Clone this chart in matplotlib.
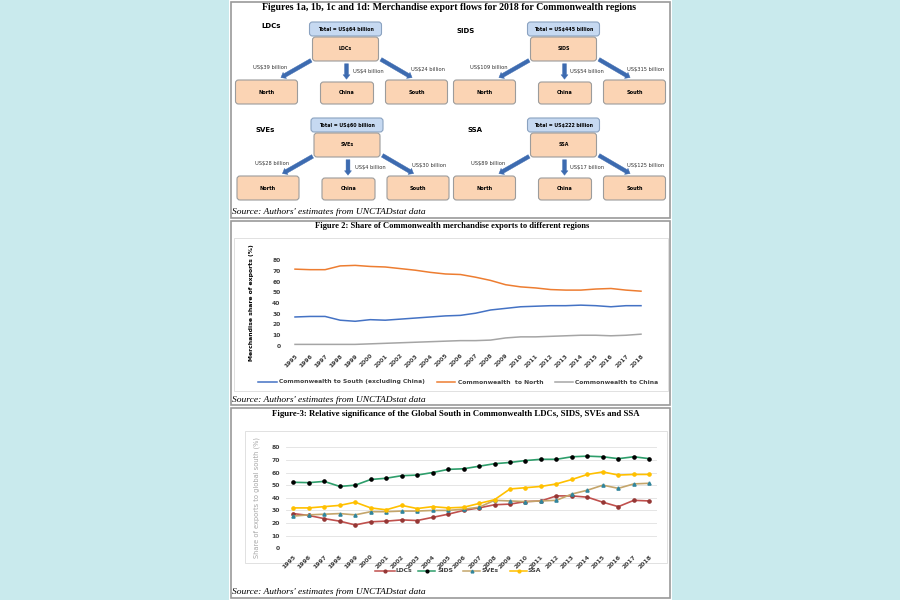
import matplotlib
matplotlib.use("Agg")
import matplotlib.pyplot as plt
from matplotlib.patches import Rectangle, FancyBboxPatch, FancyArrowPatch
import numpy as np

# ---------------- data ----------------
regions = ["LDCs", "SIDS", "SVEs", "SSA"]
totals = [64, 445, 60, 222]
to_north = [39, 109, 28, 89]
to_china = [4, 54, 4, 17]
to_south = [24, 315, 30, 125]

years = [str(y) for y in range(1995, 2019)]

cw_south = [27, 27.5, 27.5, 24, 23, 24.5, 24, 25, 26, 27, 28, 28.5, 30.5, 33.5,
            35, 36.5, 37, 37.5, 37.5, 38, 37.5, 36.5, 37.5, 37.5]
cw_north = [71.5, 71, 71, 74.5, 75, 74, 73.5, 72, 70.5, 68.5, 67, 66.5, 64, 61,
            57, 55, 54, 52.5, 52, 52, 53, 53.5, 52, 51]
cw_china = [1.5, 1.5, 1.5, 1.5, 1.5, 2, 2.5, 3, 3.5, 4, 4.5, 5, 5, 5.5,
            7.5, 8.5, 8.5, 9, 9.5, 10, 10, 9.5, 10, 11]

ldcs = [27.5, 26, 23.5, 21.5, 18.5, 21, 21.5, 22.5, 22, 24.5, 27, 30, 32, 34.5,
        35, 37, 37.5, 41.5, 41.5, 40.5, 36.5, 33, 38, 37.5]
sids = [52.3, 52, 53, 49, 50, 54.5, 55.5, 57.5, 58, 60, 62.5, 63, 65, 67,
        68, 69.5, 70.5, 70.5, 72.5, 73, 72.5, 71, 72.5, 71]
sves = [25.5, 26.5, 27, 27.5, 26.5, 29, 29, 29.5, 29.5, 30, 30, 31, 32.5, 38,
        37.5, 37, 37.5, 38, 43, 46, 50, 47.5, 51, 51.5]
ssa = [32, 32, 33, 34, 36.5, 32, 30.5, 34, 31.5, 33, 32, 32.5, 35.5, 38.5,
       47, 48, 49, 51, 54.5, 58.5, 60.5, 58, 58.5, 58.5]

# ---------------- figure ----------------
W, H = 900, 600
fig = plt.figure(figsize=(9, 6), dpi=100, facecolor="#c9eaed")

ov = fig.add_axes([0, 0, 1, 1], zorder=0)
ov.set_xlim(0, W)
ov.set_ylim(H, 0)
ov.axis("off")

SERIF = "Liberation Serif"
SANS = "DejaVu Sans"

# white panel
ov.add_patch(Rectangle((229, 0), 443, 600, facecolor="white", edgecolor="none"))
# outer frames
for (x0, y0, x1, y1) in [(231, 2, 670, 218), (231, 221, 670, 405), (231, 408, 670, 598)]:
    ov.add_patch(Rectangle((x0, y0), x1 - x0, y1 - y0, facecolor="none",
                           edgecolor="#9a9a9a", lw=1.2))
# inner chart borders
for (x0, y0, x1, y1) in [(234, 238, 668, 391), (245, 431, 667, 563)]:
    ov.add_patch(Rectangle((x0, y0), x1 - x0, y1 - y0, facecolor="none",
                           edgecolor="#dcdcdc", lw=0.6))

# titles
ov.text(449, 7, "Figures 1a, 1b, 1c and 1d: Merchandise export flows for 2018 for Commonwealth regions",
        ha="center", va="center", fontsize=7.1, fontweight="bold", family=SERIF)
ov.text(452, 226, "Figure 2: Share of Commonwealth merchandise exports to different regions",
        ha="center", va="center", fontsize=6.1, fontweight="bold", family=SERIF)
ov.text(456, 414, "Figure-3: Relative significance of the Global South in Commonwealth LDCs, SIDS, SVEs and SSA",
        ha="center", va="center", fontsize=6.3, fontweight="bold", family=SERIF)
for ys in [212, 400, 592]:
    ov.text(232, ys, "Source: Authors' estimates from UNCTADstat data", ha="left", va="center",
            fontsize=6.8, style="italic", family=SERIF)

# ---------------- figure 1 diagrams ----------------
centers = [(345.5, 22), (563.5, 22), (347, 118), (563.5, 118)]
name_pos = [(271, 26), (466, 31), (265, 130), (475, 130)]
peach = "#fbd4b4"
peach_edge = "#9c9c9c"
blue_fill = "#c6d9f1"
blue_edge = "#8aa2c0"
arrow_col = "#3d6bb0"


def rbox(x0, y0, x1, y1, fc, ec, text, fs=3.6):
    ov.add_patch(FancyBboxPatch((x0, y0), x1 - x0, y1 - y0,
                                boxstyle="round,pad=0,rounding_size=3",
                                facecolor=fc, edgecolor=ec, lw=0.8))
    ov.text((x0 + x1) / 2, (y0 + y1) / 2, text, ha="center", va="center",
            fontsize=fs, fontweight="bold", family=SANS)


for i, reg in enumerate(regions):
    cx, y0 = centers[i]
    ov.text(name_pos[i][0], name_pos[i][1], reg, ha="center", va="center",
            fontsize=5, fontweight="bold", family=SANS)
    rbox(cx - 36, y0, cx + 36, y0 + 14, blue_fill, blue_edge,
         f"Total = US${totals[i]} billion", fs=3.4)
    rbox(cx - 33, y0 + 15, cx + 33, y0 + 39, peach, peach_edge, reg, fs=3.4)
    rbox(cx - 110, y0 + 58, cx - 48, y0 + 82, peach, peach_edge, "North", fs=3.6)
    rbox(cx - 25, y0 + 60, cx + 28, y0 + 82, peach, peach_edge, "China", fs=3.6)
    rbox(cx + 40, y0 + 58, cx + 102, y0 + 82, peach, peach_edge, "South", fs=3.6)
    for (xa, ya, xb, yb) in [(cx - 32, y0 + 37, cx - 67, y0 + 57),
                             (cx + 1, y0 + 39, cx + 1, y0 + 60),
                             (cx + 33, y0 + 36, cx + 69, y0 + 57)]:
        ov.add_patch(FancyArrowPatch((xa, ya), (xb, yb),
                                     arrowstyle="simple,head_length=3.2,head_width=5,tail_width=2.8",
                                     mutation_scale=1, facecolor=arrow_col,
                                     edgecolor=arrow_col, lw=0.3))
    ov.text(cx - 75, y0 + 46, f"US${to_north[i]} billion", ha="center", va="center",
            fontsize=3.7, color="#333333", family=SANS)
    ov.text(cx + 23, y0 + 49, f"US${to_china[i]} billion", ha="center", va="center",
            fontsize=3.7, color="#333333", family=SANS)
    ov.text(cx + 82, y0 + 47, f"US${to_south[i]} billion", ha="center", va="center",
            fontsize=3.7, color="#333333", family=SANS)

# ---------------- figure 2 ----------------
x = np.arange(len(years))


def px_axes(left, right, top, bottom):
    return fig.add_axes([left / W, 1 - bottom / H, (right - left) / W, (bottom - top) / H],
                        zorder=1, facecolor="none")


sp2 = (641 - 295) / 23
ax2 = px_axes(295 - sp2 / 2, 641 + sp2 / 2, 260, 346)
ax2.plot(x, cw_south, color="#4472c4", lw=1.1)
ax2.plot(x, cw_north, color="#ed7d31", lw=1.1)
ax2.plot(x, cw_china, color="#a5a5a5", lw=1.1)
ax2.set_xlim(-0.5, len(years) - 0.5)
ax2.set_ylim(0, 80)
ax2.set_yticks(range(0, 81, 10))
ax2.set_xticks(x)
ax2.set_xticklabels(years, rotation=45, ha="right", rotation_mode="anchor")
for s in ax2.spines.values():
    s.set_visible(False)
ax2.tick_params(length=0, labelsize=4.3, pad=5)
for t in ax2.get_yticklabels() + ax2.get_xticklabels():
    t.set_fontweight("bold")
    t.set_color("#404040")
ax2.set_ylabel("Merchandise share of exports (%)", fontsize=4.4, fontweight="bold",
               labelpad=13)

# legend figure 2
leg2 = [((258, 277), 279, "Commonwealth to South (excluding China)", "#4472c4"),
        ((437, 455), 458, "Commonwealth  to North", "#ed7d31"),
        ((555, 573), 575, "Commonwealth to China", "#a5a5a5")]
for (xa, xb), xt, lab, col in leg2:
    ov.plot([xa, xb], [382, 382], color=col, lw=1.1)
    ov.text(xt, 382, lab, ha="left", va="center", fontsize=4.3, fontweight="bold",
            color="#404040", family=SANS)

# ---------------- figure 3 ----------------
sp3 = (649.3 - 293.3) / 23
ax3 = px_axes(293.3 - sp3 / 2, 649.3 + sp3 / 2, 447.3, 548.3)
ax3.set_axisbelow(True)
ax3.grid(axis="y", color="#e0e0e0", lw=0.6)
styles3 = [
    (ldcs, "LDCs", "#c0504d", "o", "#953735"),
    (sids, "SIDS", "#2e9e6b", "o", "#000000"),
    (sves, "SVEs", "#c4a56b", "^", "#31859c"),
    (ssa, "SSA", "#ffc000", "o", "#ffc000"),
]
for vals, lab, lc, mk, mc in styles3:
    ax3.plot(x, vals, color=lc, lw=1.2, marker=mk, markersize=2.3,
             markerfacecolor=mc, markeredgecolor=mc)
ax3.set_xlim(-0.5, len(years) - 0.5)
ax3.set_ylim(0, 80)
ax3.set_yticks(range(0, 81, 10))
ax3.set_xticks(x)
ax3.set_xticklabels(years, rotation=45, ha="right", rotation_mode="anchor")
for s in ax3.spines.values():
    s.set_visible(False)
ax3.tick_params(length=0, labelsize=4.4, pad=4)
for t in ax3.get_yticklabels() + ax3.get_xticklabels():
    t.set_fontweight("bold")
    t.set_color("#404040")
ax3.set_ylabel("Share of exports to global south (%)", fontsize=4.8, color="#a6a6a6",
               labelpad=8)

# legend figure 3
leg3_pos = [((375, 395), 396), ((418, 435), 437), ((463, 480), 482), ((510, 527), 528)]
for ((xa, xb), xt), (vals, lab, lc, mk, mc) in zip(leg3_pos, styles3):
    ov.plot([xa, xb], [571, 571], color=lc, lw=1.1)
    ov.plot([(xa + xb) / 2], [571], marker=mk, markersize=2.0, color=mc)
    ov.text(xt, 571, lab, ha="left", va="center", fontsize=4.4, fontweight="bold",
            color="#404040", family=SANS)

fig.savefig("out.png", dpi=100, facecolor=fig.get_facecolor())
